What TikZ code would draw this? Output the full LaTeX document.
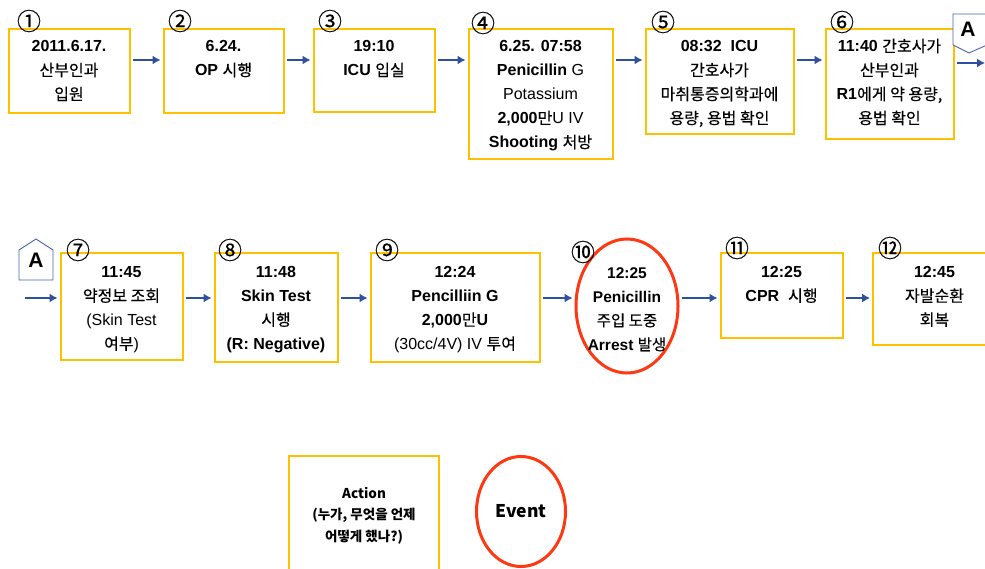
\documentclass[tikz,border=0pt]{standalone}
\usepackage{fontspec}
\setmainfont{Liberation Sans}
\newfontfamily\krf{Noto Sans CJK KR}[FakeBold=0.35]
\newfontfamily\krl{Noto Sans CJK KR}
\usetikzlibrary{arrows.meta,shapes.geometric}
\definecolor{boxc}{HTML}{FFC000}
\definecolor{evc}{HTML}{FF3814}
\definecolor{arc}{HTML}{2F4F9F}
\definecolor{pentc}{HTML}{4464B4}
\newcommand\hk[1]{{\krf #1}}
\tikzset{
 actbox/.style={draw=boxc, line width=2pt, inner sep=0pt, rectangle},
 evt/.style={draw=evc, line width=3pt, ellipse, inner sep=0pt},
 txt/.style={anchor=north, align=center, inner sep=0pt, font=\fontsize{16}{24}\selectfont},
 num/.style={inner sep=0pt, font=\krf\fontsize{24}{24}\selectfont},
 arr/.style={draw=arc, line width=1.3pt, -{Latex[length=8pt,width=9pt]}, shorten <=2pt, shorten >=2pt},
 pent/.style={draw=pentc, line width=0.9pt, fill=white},
 lett/.style={inner sep=0pt, font=\bfseries\fontsize{21}{21}\selectfont},
 legtxt/.style={align=center, inner sep=0pt, font=\krl\bfseries\fontsize{13.5}{21.5}\selectfont},
}
\begin{document}
\begin{tikzpicture}[x=1pt,y=-1pt]
\useasboundingbox (0,0) rectangle (985,569);
\clip (0,0) rectangle (985,569);
% row 1 boxes
\node[actbox, minimum width=121pt, minimum height=84pt] (b1) at (69,71.5) {};
\node[actbox, minimum width=120pt, minimum height=84pt] (b2) at (223.5,71.5) {};
\node[actbox, minimum width=121pt, minimum height=83pt] (b3) at (374,71) {};
\node[actbox, minimum width=144pt, minimum height=130pt] (b4) at (540.5,94.5) {};
\node[actbox, minimum width=148pt, minimum height=105pt] (b5) at (719.5,82) {};
\node[actbox, minimum width=128pt, minimum height=110pt] (b6) at (889.5,84.5) {};
% row 2
\node[actbox, minimum width=122pt, minimum height=106pt] (b7) at (121.5,306.5) {};
\node[actbox, minimum width=123pt, minimum height=108pt] (b8) at (276,307.5) {};
\node[actbox, minimum width=169pt, minimum height=108pt] (b9) at (455,307.5) {};
\node[evt, minimum width=102pt, minimum height=134pt] (e10) at (627,306) {};
\node[actbox, minimum width=122pt, minimum height=84pt] (b11) at (781.5,295.5) {};
\node[actbox, minimum width=123pt, minimum height=91pt] (b12) at (934.5,299) {};
% legend
\node[actbox, minimum width=150pt, minimum height=144pt] (lb) at (364,528) {};
\node[evt, minimum width=89pt, minimum height=110pt] (le) at (521,511.5) {};

% texts row 1
\node[txt] (t1) at ([yshift=-6.5pt]b1.north) {\strut\textbf{2011.6.17.}\\\hk{산부인과}\\\hk{입원}};
\node[txt] (t2) at ([yshift=-6.5pt]b2.north) {\strut\textbf{6.24.}\\\textbf{OP} \hk{시행}};
\node[txt] (t3) at ([yshift=-6.5pt]b3.north) {\strut\textbf{19:10}\\\textbf{ICU} \hk{입실}};
\node[txt] (t4) at ([yshift=-6.5pt]b4.north) {\strut\textbf{6.25. 07:58}\\\textbf{Penicillin} G\\Potassium\\\textbf{2,000}\hk{만}U IV\\\textbf{Shooting} \hk{처방}};
\node[txt] (t5) at ([yshift=-6.5pt]b5.north) {\strut\textbf{08:32\ \ ICU}\\\hk{간호사가}\\\hk{마취통증의학과에}\\\hk{용량, 용법 확인}};
\node[txt] (t6) at ([yshift=-6.5pt]b6.north) {\strut\textbf{11:40} \hk{간호사가}\\\hk{산부인과}\\\textbf{R1}\hk{에게 약 용량,}\\\hk{용법 확인}};
% texts row 2
\node[txt] (t7) at ([yshift=-8.2pt]b7.north) {\strut\textbf{11:45}\\\hk{약정보 조회}\\(Skin Test\\\hk{여부})};
\node[txt] (t8) at ([yshift=-8.2pt]b8.north) {\strut\textbf{11:48}\\\textbf{Skin Test}\\\hk{시행}\\\textbf{(R: Negative)}};
\node[txt] (t9) at ([yshift=-8.2pt]b9.north) {\strut\textbf{12:24}\\\textbf{Pencilliin G}\\\textbf{2,000}\hk{만}\textbf{U}\\(30cc/4V) IV \hk{투여}};
\node[txt, font=\fontsize{15.5}{24}\selectfont] (t10) at ([yshift=44.8pt]e10.center) {\strut\textbf{12:25}\\\textbf{Penicillin}\\\hk{주입 도중}\\\textbf{Arrest} \hk{발생}};
\node[txt] (t11) at ([yshift=-8.2pt]b11.north) {\strut\textbf{12:25}\\\textbf{CPR}\ \ \hk{시행}};
\node[txt] (t12) at ([yshift=-8.2pt]b12.north) {\strut\textbf{12:45}\\\hk{자발순환}\\\hk{회복}};
% legend texts
\node[legtxt] (lt) at (364,515.5) {Action\\(누가, 무엇을 언제\\어떻게 했나?)};
\node[inner sep=0pt, font=\krl\bfseries\fontsize{17.5}{17.5}\selectfont] (let) at (le.center) {Event};

% circled numbers
\node[num] (n1) at (29,21) {①};
\node[num] (n2) at (180,21) {②};
\node[num] (n3) at (330,21) {③};
\node[num] (n4) at (483,23) {④};
\node[num] (n5) at (663,22) {⑤};
\node[num] (n6) at (842,22) {⑥};
\node[num] (n7) at (78,250) {⑦};
\node[num] (n8) at (230,250) {⑧};
\node[num] (n9) at (387,250) {⑨};
\node[num] (n10) at (583,252) {⑩};
\node[num] (n11) at (737,248) {⑪};
\node[num] (n12) at (890,248) {⑫};

% connector pentagons
\draw[pent] (953,14) -- (987,14) -- (987,45) -- (969,53) -- (953,45) -- cycle;
\node[lett] (A1) at (968,29) {A};
\draw[pent] (19,250) -- (36,239) -- (53,250) -- (53,280) -- (19,280) -- cycle;
\node[lett] (A2) at (36,260) {A};

% arrows
\coordinate (r1) at (0,60);
\coordinate (r2) at (0,298);
\coordinate (outA) at (985,63);
\coordinate (inA) at (25,298);
\draw[arr] (b1.east |- r1) -- (b2.west |- r1);
\draw[arr] (b2.east |- r1) -- (b3.west |- r1);
\draw[arr] (b3.east |- r1) -- (b4.west |- r1);
\draw[arr] (b4.east |- r1) -- (b5.west |- r1);
\draw[arr] (b5.east |- r1) -- (b6.west |- r1);
\draw[arr, shorten >=0pt] (b6.east |- outA) -- (outA);
\draw[arr, shorten <=0pt] (inA) -- (b7.west |- r2);
\draw[arr] (b7.east |- r2) -- (b8.west |- r2);
\draw[arr] (b8.east |- r2) -- (b9.west |- r2);
\draw[arr] (b9.east |- r2) -- (e10.west |- r2);
\draw[arr] (e10.east |- r2) -- (b11.west |- r2);
\draw[arr] (b11.east |- r2) -- (b12.west |- r2);
\end{tikzpicture}
\end{document}
